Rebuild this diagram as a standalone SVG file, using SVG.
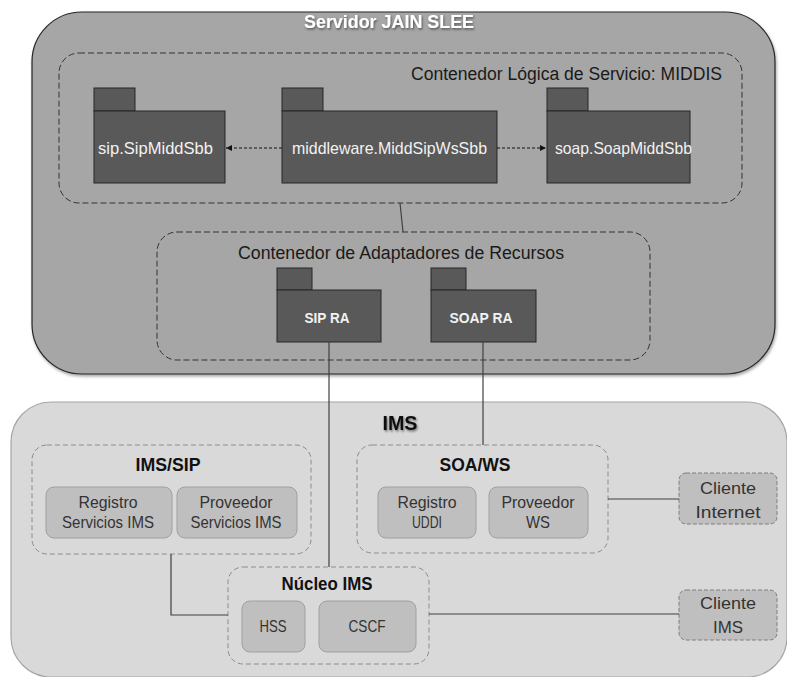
<svg xmlns="http://www.w3.org/2000/svg" width="787" height="677" viewBox="0 0 787 677">
<defs>
<filter id="sh" x="-10%" y="-10%" width="120%" height="130%"><feDropShadow dx="1" dy="2" stdDeviation="1.5" flood-color="#000" flood-opacity="0.35"/></filter>
<filter id="tsh" x="-10%" y="-30%" width="120%" height="160%"><feDropShadow dx="1" dy="1.5" stdDeviation="1" flood-color="#000" flood-opacity="0.5"/></filter>
<marker id="ah" viewBox="0 0 10 10" refX="10" refY="5" markerWidth="6" markerHeight="6" orient="auto-start-reverse" markerUnits="userSpaceOnUse"><path d="M0,0 L10,5 L0,10 Z" fill="#111"/></marker>
<style>
text{font-family:"Liberation Sans",Arial,sans-serif;}
.pkg{fill:#595959;stroke:#262626;stroke-width:1;}
.ptxt{fill:#f2f2f2;font-size:16.5px;}
.ptxtb{fill:#f2f2f2;font-size:14.5px;font-weight:bold;text-anchor:middle;}
.dcont{fill:none;stroke:#333;stroke-width:1;stroke-dasharray:6,3;}
.lcont{fill:none;stroke:#8c8c8c;stroke-width:1;stroke-dasharray:5,3;}
.ibox{fill:#bfbfbf;stroke:#a0a0a0;stroke-width:1;}
.cbox{fill:#bfbfbf;stroke:#7f7f7f;stroke-width:1;stroke-dasharray:4,2;}
.itxt{fill:#333;font-size:16.5px;text-anchor:middle;}
.ctitle{fill:#1a1a1a;font-size:18px;}
.btitle{fill:#111;font-size:18.5px;font-weight:bold;text-anchor:middle;}
.conn{fill:none;stroke:#404040;stroke-width:1.2;}
.dot{fill:none;stroke:#111;stroke-width:1;stroke-dasharray:3,2;}
</style>
</defs>

<g id="jain">
<rect x="32" y="12" width="743" height="362" rx="50" ry="50" fill="#a6a6a6" stroke="#262626" stroke-width="1.2" filter="url(#sh)"/>
<text x="389" y="28" font-size="18.5" font-weight="bold" fill="#fff" text-anchor="middle" textLength="170" lengthAdjust="spacingAndGlyphs" filter="url(#tsh)">Servidor JAIN SLEE</text>
</g>

<g id="middis">
<rect class="dcont" x="59" y="53" width="683" height="150" rx="20" ry="20"/>
<text class="ctitle" x="722" y="80" text-anchor="end" textLength="311" lengthAdjust="spacingAndGlyphs">Contenedor Lógica de Servicio: MIDDIS</text>
</g>

<g id="sipMiddSbb">
<rect class="pkg" x="94" y="88" width="41" height="23"/>
<rect class="pkg" x="94" y="111" width="131" height="72"/>
<text class="ptxt" x="98" y="154" textLength="115" lengthAdjust="spacingAndGlyphs">sip.SipMiddSbb</text>
</g>

<g id="middSipWsSbb">
<rect class="pkg" x="282" y="88" width="41" height="23"/>
<rect class="pkg" x="282" y="111" width="215" height="72"/>
<text class="ptxt" x="292" y="154" textLength="195" lengthAdjust="spacingAndGlyphs">middleware.MiddSipWsSbb</text>
</g>

<g id="soapMiddSbb">
<rect class="pkg" x="547" y="88" width="41" height="23"/>
<rect class="pkg" x="547" y="111" width="143" height="72"/>
<text class="ptxt" x="555" y="154" textLength="137" lengthAdjust="spacingAndGlyphs">soap.SoapMiddSbb</text>
</g>

<g id="adaptadores">
<rect class="dcont" x="157" y="232" width="493" height="128" rx="20" ry="20"/>
<text class="ctitle" x="401" y="259" text-anchor="middle" textLength="326" lengthAdjust="spacingAndGlyphs">Contenedor de Adaptadores de Recursos</text>
</g>

<g id="sipRA">
<rect class="pkg" x="277" y="268" width="35" height="22"/>
<rect class="pkg" x="277" y="290" width="104" height="52"/>
<text class="ptxtb" x="327" y="323" textLength="45" lengthAdjust="spacingAndGlyphs">SIP RA</text>
</g>

<g id="soapRA">
<rect class="pkg" x="431" y="268" width="35" height="22"/>
<rect class="pkg" x="431" y="290" width="105" height="52"/>
<text class="ptxtb" x="481" y="323" textLength="63" lengthAdjust="spacingAndGlyphs">SOAP RA</text>
</g>

<g id="ims">
<rect x="11" y="402" width="776" height="275" rx="40" ry="40" fill="#d9d9d9" stroke="#a6a6a6" stroke-width="1.2"/>
<text x="400" y="430" font-size="20" font-weight="bold" fill="#111" text-anchor="middle" textLength="35" lengthAdjust="spacingAndGlyphs" filter="url(#tsh)">IMS</text>
</g>

<g id="imsSip">
<rect class="lcont" x="32" y="445" width="279" height="109" rx="15" ry="15"/>
<text class="btitle" x="168" y="471" textLength="65" lengthAdjust="spacingAndGlyphs">IMS/SIP</text>
</g>
<g id="registroIMS">
<rect class="ibox" x="46" y="487" width="126" height="51" rx="8" ry="8"/>
<text class="itxt" x="108" y="508" textLength="59" lengthAdjust="spacingAndGlyphs">Registro</text>
<text class="itxt" x="108" y="528" textLength="92" lengthAdjust="spacingAndGlyphs">Servicios IMS</text>
</g>
<g id="proveedorIMS">
<rect class="ibox" x="177" y="487" width="120" height="51" rx="8" ry="8"/>
<text class="itxt" x="236" y="508" textLength="73" lengthAdjust="spacingAndGlyphs">Proveedor</text>
<text class="itxt" x="236" y="528" textLength="91" lengthAdjust="spacingAndGlyphs">Servicios IMS</text>
</g>

<g id="soaWs">
<rect class="lcont" x="357" y="445" width="251" height="108" rx="15" ry="15"/>
<text class="btitle" x="475" y="471" textLength="71" lengthAdjust="spacingAndGlyphs">SOA/WS</text>
</g>
<g id="registroUDDI">
<rect class="ibox" x="378" y="487" width="98" height="51" rx="8" ry="8"/>
<text class="itxt" x="427" y="508" textLength="59" lengthAdjust="spacingAndGlyphs">Registro</text>
<text class="itxt" x="427" y="528" textLength="30" lengthAdjust="spacingAndGlyphs">UDDI</text>
</g>
<g id="proveedorWS">
<rect class="ibox" x="489" y="487" width="99" height="51" rx="8" ry="8"/>
<text class="itxt" x="538" y="508" textLength="73" lengthAdjust="spacingAndGlyphs">Proveedor</text>
<text class="itxt" x="538" y="528" textLength="24" lengthAdjust="spacingAndGlyphs">WS</text>
</g>

<g id="nucleo">
<rect class="lcont" x="228" y="567" width="201" height="97" rx="15" ry="15"/>
<text class="btitle" x="327" y="590" textLength="91" lengthAdjust="spacingAndGlyphs">Núcleo IMS</text>
</g>
<g id="hss">
<rect class="ibox" x="242" y="601" width="63" height="51" rx="8" ry="8"/>
<text class="itxt" x="273" y="632" textLength="27" lengthAdjust="spacingAndGlyphs">HSS</text>
</g>
<g id="cscf">
<rect class="ibox" x="319" y="601" width="97" height="51" rx="8" ry="8"/>
<text class="itxt" x="367" y="632" textLength="37" lengthAdjust="spacingAndGlyphs">CSCF</text>
</g>

<g id="clienteInternet">
<rect class="cbox" x="679" y="473" width="98" height="51" rx="7" ry="7"/>
<text class="itxt" x="728" y="494" font-size="17.5" textLength="56" lengthAdjust="spacingAndGlyphs">Cliente</text>
<text class="itxt" x="728" y="518" font-size="17.5" textLength="65" lengthAdjust="spacingAndGlyphs">Internet</text>
</g>
<g id="clienteIMS">
<rect class="cbox" x="679" y="590" width="98" height="50" rx="7" ry="7"/>
<text class="itxt" x="728" y="609" font-size="17.5" textLength="56" lengthAdjust="spacingAndGlyphs">Cliente</text>
<text class="itxt" x="728" y="633" font-size="17.5" textLength="30" lengthAdjust="spacingAndGlyphs">IMS</text>
</g>

<g id="connectors">
<line class="dot" x1="282" y1="148" x2="226" y2="148" marker-end="url(#ah)"/>
<line class="dot" x1="497" y1="148" x2="546" y2="148" marker-end="url(#ah)"/>
<line class="conn" x1="400" y1="203" x2="403" y2="232"/>
<line class="conn" x1="329" y1="342" x2="329" y2="567"/>
<line class="conn" x1="483" y1="342" x2="483" y2="445"/>
<polyline class="conn" points="171,554 171,615 228,615"/>
<line class="conn" x1="608" y1="499" x2="679" y2="499"/>
<line class="conn" x1="429" y1="614" x2="679" y2="614"/>
</g>
</svg>
